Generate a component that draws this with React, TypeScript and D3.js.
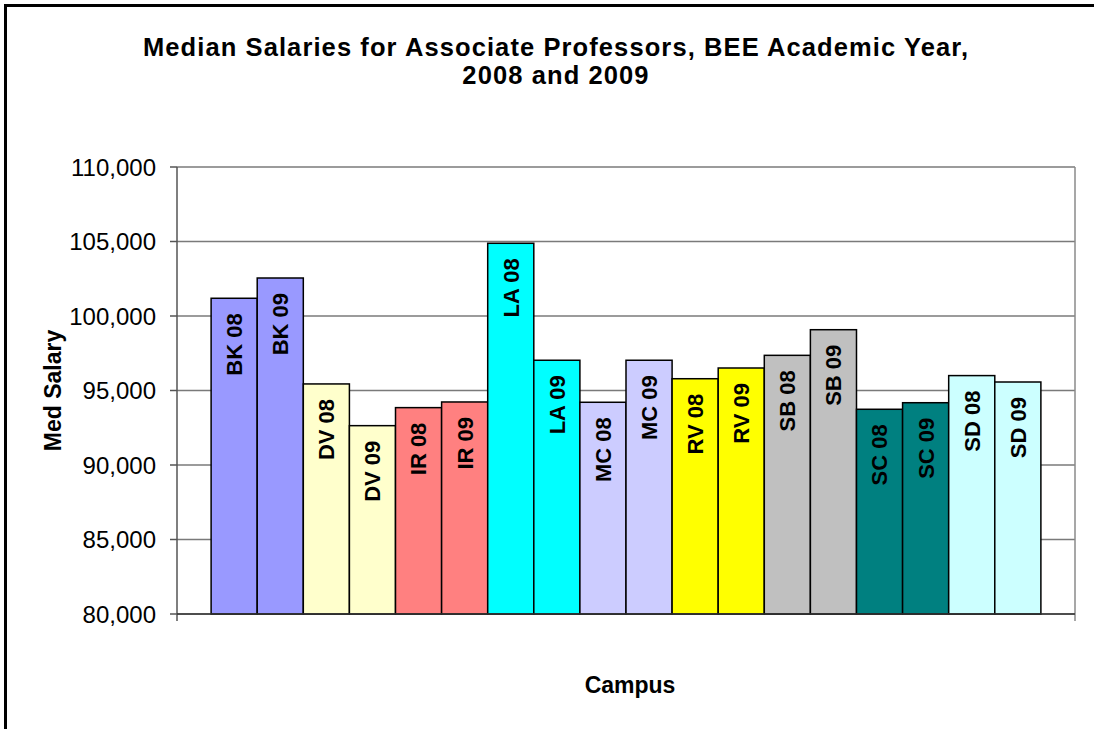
import React from "react";
import * as d3 from "d3";

const labels = ["BK 08","BK 09","DV 08","DV 09","IR 08","IR 09","LA 08","LA 09","MC 08","MC 09","RV 08","RV 09","SB 08","SB 09","SC 08","SC 09","SD 08","SD 09"];
const values = [101190,102550,95440,92640,93850,94230,104880,97030,94210,97030,95790,96510,97360,99080,93740,94180,96000,95570];
const colors = ["#9999FF","#9999FF","#FFFFCC","#FFFFCC","#FF8080","#FF8080","#00FFFF","#00FFFF","#CCCCFF","#CCCCFF","#FFFF00","#FFFF00","#C0C0C0","#C0C0C0","#008080","#008080","#CCFFFF","#CCFFFF"];
const yTicks = [80000,85000,90000,95000,100000,105000,110000];
const titleLines = ["Median Salaries for Associate Professors, BEE Academic Year,", "2008 and 2009"];

const W = 1094, H = 729;
const L = 177, R = 1075, T = 167, B = 614;
const FONT = "'Liberation Sans', Arial, sans-serif";

export default function App() {
  const x = d3.scaleBand<string>().domain(labels).range([L, R]).paddingInner(0).paddingOuter(0.74);
  const y = d3.scaleLinear().domain([80000, 110000]).range([B, T]);
  const fmt = d3.format(",");
  return (
    <svg width={W} height={H} style={{ position: "absolute", left: 0, top: 0, background: "#fff" }} fontFamily={FONT}>
      <rect x={0} y={0} width={W} height={H} fill="#fff" />
      <rect x={5.5} y={5.5} width={W + 20} height={H + 20} fill="none" stroke="#000" strokeWidth={3} />
      {titleLines.map((t, i) => (
        <text key={i} x={556} y={56 + i * 28} textAnchor="middle" fontSize={25.5} fontWeight="bold" letterSpacing={1.1} fill="#000">{t}</text>
      ))}
      {yTicks.map((v) => (
        <line key={v} x1={L} x2={R} y1={y(v)} y2={y(v)} stroke="#7a7a7a" strokeWidth={1.5} />
      ))}
      <line x1={R} x2={R} y1={T} y2={B + 7} stroke="#8a8a8a" strokeWidth={1.5} />
      {labels.map((l, i) => (
        <rect key={l} x={x(l)!} y={y(values[i])} width={x.bandwidth()} height={B - y(values[i])} fill={colors[i]} stroke="#000" strokeWidth={1.5} />
      ))}
      {labels.map((l, i) => {
        const cx = x(l)! + x.bandwidth() / 2;
        const ty = y(values[i]) + 15;
        return (
          <text key={"t" + l} transform={`translate(${cx},${ty}) rotate(-90)`} textAnchor="end" dy="0.36em" fontSize={22} fontWeight="bold" fill="#000">{l}</text>
        );
      })}
      <line x1={L} x2={L} y1={T} y2={B + 7} stroke="#555" strokeWidth={1.5} />
      <line x1={L} x2={R} y1={B} y2={B} stroke="#333" strokeWidth={1.5} />
      {yTicks.map((v) => (
        <g key={"k" + v}>
          <line x1={L - 7} x2={L} y1={y(v)} y2={y(v)} stroke="#555" strokeWidth={1.5} />
          <text x={156} y={y(v)} dy="0.36em" textAnchor="end" fontSize={24} fill="#000">{fmt(v)}</text>
        </g>
      ))}
      <text transform={`translate(53,${(T + B) / 2}) rotate(-90)`} dy="0.36em" textAnchor="middle" fontSize={23} fontWeight="bold" fill="#000">Med Salary</text>
      <text x={(L + R) / 2 + 4} y={693} textAnchor="middle" fontSize={23} fontWeight="bold" fill="#000">Campus</text>
    </svg>
  );
}
